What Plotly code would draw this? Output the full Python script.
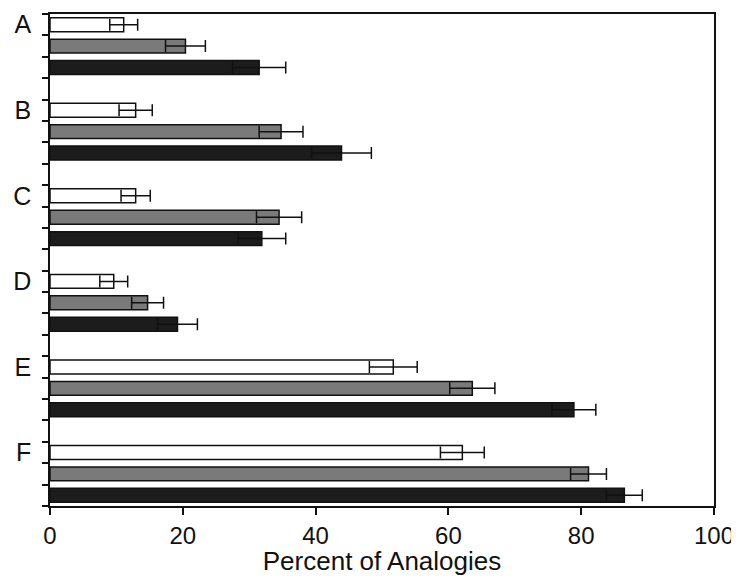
import plotly.graph_objects as go

categories = ["A", "B", "C", "D", "E", "F"]
series_names = ["White", "Gray", "Black"]
white_vals = [11.1, 12.9, 12.9, 9.6, 51.7, 62.1]
white_err = [2.1, 2.5, 2.2, 2.1, 3.6, 3.3]
gray_vals = [20.4, 34.8, 34.5, 14.7, 63.6, 81.1]
gray_err = [3.0, 3.3, 3.4, 2.4, 3.4, 2.7]
black_vals = [31.5, 43.9, 31.9, 19.2, 78.9, 86.5]
black_err = [4.0, 4.5, 3.6, 3.0, 3.3, 2.7]
x_ticks = [0, 20, 40, 60, 80, 100]

series = [
    (white_vals, white_err, "white"),
    (gray_vals, gray_err, "#7a7a7a"),
    (black_vals, black_err, "#1c1c1c"),
]

slots_per_group = 4  # 3 bars + blank row
n_slots = len(categories) * slots_per_group - 1

fig = go.Figure()
for s_idx, (vals, errs, color) in enumerate(series):
    ypos = [g * slots_per_group + s_idx + 0.5 for g in range(len(categories))]
    fig.add_trace(go.Bar(
        x=vals, y=ypos, orientation="h", width=0.65,
        name=series_names[s_idx],
        marker=dict(color=color, line=dict(color="#111", width=1.5)),
        error_x=dict(type="data", array=errs, symmetric=True,
                     color="#111", thickness=1.5, width=6),
        showlegend=False,
    ))

font = "Liberation Sans, Arial, sans-serif"
fig.update_layout(
    width=731, height=568,
    margin=dict(l=42, r=25, t=6, b=70),
    paper_bgcolor="white", plot_bgcolor="white",
    barmode="overlay",
    font=dict(family=font, size=24, color="#111"),
    xaxis=dict(
        range=[0, 100], tickvals=x_ticks, ticks="outside", ticklen=7,
        tickwidth=1.5, tickcolor="#111", showgrid=False, zeroline=False,
        showline=True, linecolor="#111", linewidth=1.5, mirror=True,
        tickfont=dict(size=24), automargin=False,
        title=dict(text="Percent of Analogies", font=dict(size=26), standoff=5),
    ),
    yaxis=dict(
        range=[n_slots, 0], tickvals=[g * slots_per_group + 0.5 for g in range(len(categories))],
        ticktext=categories, ticks="", ticklen=0, showgrid=False, zeroline=False,
        showline=True, linecolor="#111", linewidth=1.5, mirror=True,
        tickfont=dict(size=25), ticklabelstandoff=12, automargin=False,
        minor=dict(tick0=0, dtick=1, ticks="outside", ticklen=6,
                   tickwidth=1.5, tickcolor="#111", showgrid=False),
    ),
)

fig.write_html("out.html")
